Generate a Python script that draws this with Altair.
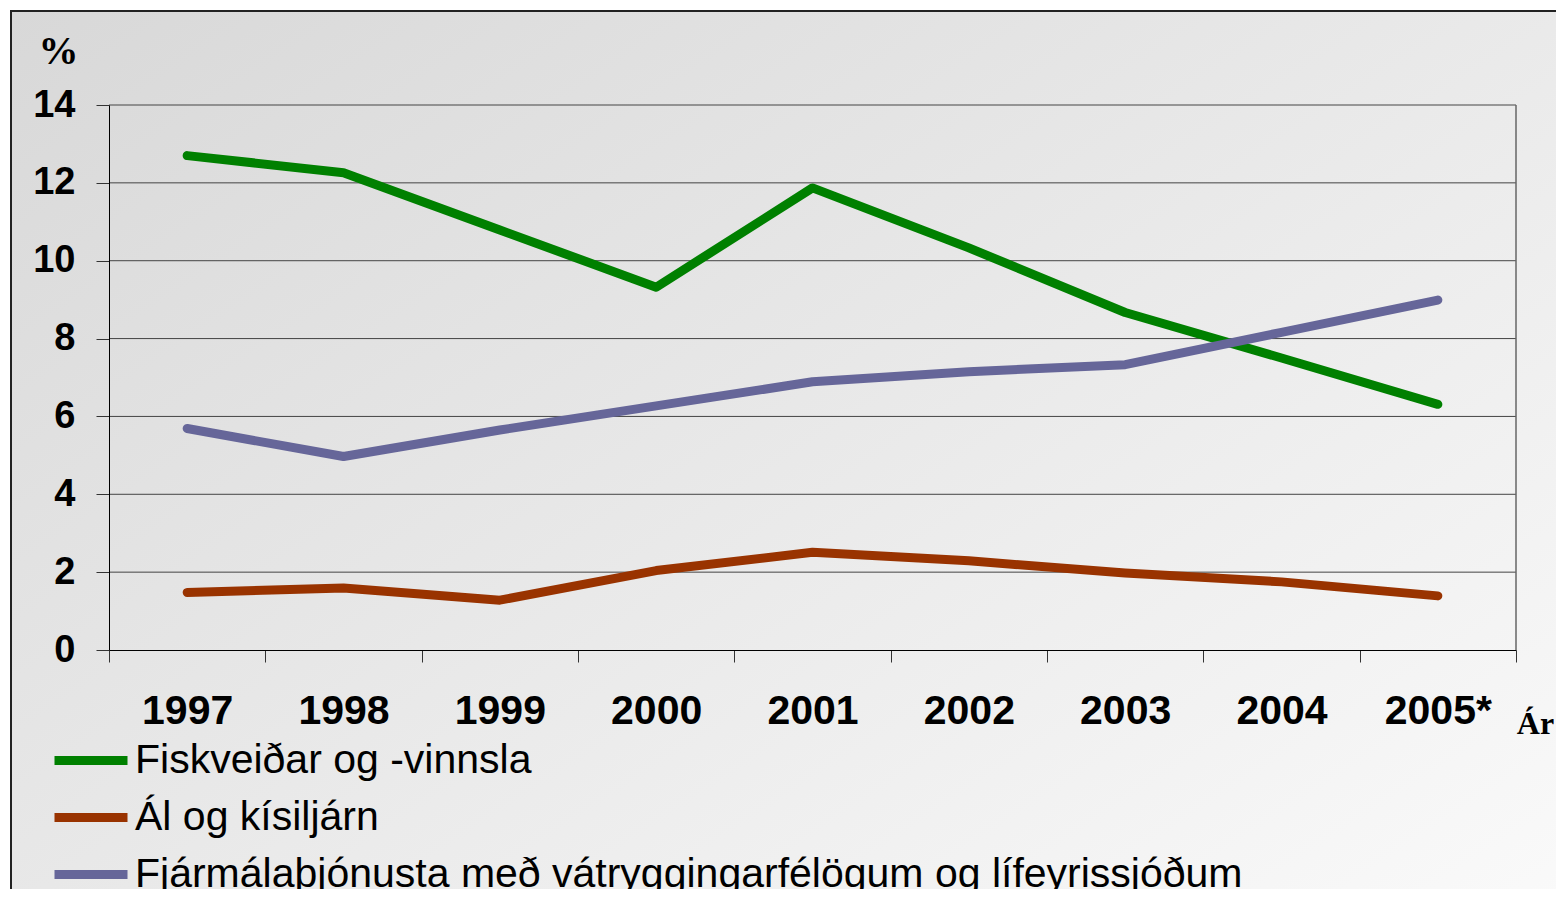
import altair as alt
import pandas as pd

years = ["1997", "1998", "1999", "2000", "2001", "2002", "2003", "2004", "2005*"]
series_names = [
    "Fiskveiðar og -vinnsla",
    "Ál og kísiljárn",
    "Fjármálaþjónusta með vátryggingarfélögum og lífeyrissjóðum",
]
fisk = [12.70, 12.26, 10.79, 9.32, 11.87, 10.33, 8.67, 7.50, 6.31]
al = [1.48, 1.59, 1.28, 2.04, 2.51, 2.29, 1.98, 1.75, 1.39]
fjarmal = [5.69, 4.97, 5.65, 6.27, 6.89, 7.15, 7.33, 8.16, 8.99]
colors = ["#008000", "#993300", "#666699"]
y_ticks = [0, 2, 4, 6, 8, 10, 12, 14]

rows = []
for name, vals in zip(series_names, [fisk, al, fjarmal]):
    for yr, v in zip(years, vals):
        rows.append({"Ár": yr, "Gildi": v, "Flokkur": name})
df = pd.DataFrame(rows)
grid_df = pd.DataFrame({"Gildi": y_ticks[1:]})

W, H = 1407, 545
PL, PT = 101, 97

bg = alt.Chart(pd.DataFrame({"a": [0]})).mark_rect(
    fill=alt.Gradient(
        gradient="linear",
        x1=0, y1=0, x2=1, y2=1,
        stops=[alt.GradientStop(color="#d8d8d8", offset=0),
               alt.GradientStop(color="#ffffff", offset=1)],
    ),
    stroke="#222222",
    strokeWidth=2,
).encode(
    x=alt.value(-98), x2=alt.value(1600),
    y=alt.value(-94), y2=alt.value(1000),
)

grid = alt.Chart(grid_df).mark_rule(color="#444444", strokeWidth=1).encode(
    y=alt.Y("Gildi:Q")
)

right_border = alt.Chart(pd.DataFrame({"a": [0]})).mark_rule(
    color="#666666", strokeWidth=1.5
).encode(x=alt.value(W), y=alt.value(0), y2=alt.value(H))

lines = alt.Chart(df).mark_line(strokeWidth=9, strokeCap="round", strokeJoin="round").encode(
    x=alt.X(
        "Ár:N",
        sort=years,
        scale=alt.Scale(type="band", paddingInner=0, paddingOuter=0),
        axis=alt.Axis(
            title="Ár",
            titleFont="Liberation Serif",
            titleFontSize=32,
            titleFontWeight="bold",
            titleColor="black",
            titleAngle=0,
            titleAlign="center",
            titleBaseline="alphabetic",
            titleX=1426,
            titleY=83,
            labelAngle=0,
            labelFont="Liberation Sans",
            labelFontSize=41,
            labelFontWeight="bold",
            labelColor="black",
            labelPadding=29,
            tickBand="extent",
            tickSize=12,
            tickColor="#333333",
            domainColor="black",
            grid=False,
            zindex=1,
        ),
    ),
    y=alt.Y(
        "Gildi:Q",
        scale=alt.Scale(domain=[0, 14], nice=False, zero=True),
        axis=alt.Axis(
            values=y_ticks,
            title="%",
            titleFont="Liberation Serif",
            titleFontSize=40,
            titleFontWeight="bold",
            titleColor="black",
            titleAngle=0,
            titleAlign="center",
            titleBaseline="alphabetic",
            titleX=-51,
            titleY=-42,
            labelFont="Liberation Sans",
            labelFontSize=38,
            labelFontWeight="bold",
            labelColor="black",
            labelPadding=21,
            tickSize=13,
            tickColor="#333333",
            domainColor="black",
            grid=False,
            zindex=1,
        ),
    ),
    color=alt.Color(
        "Flokkur:N",
        sort=series_names,
        scale=alt.Scale(domain=series_names, range=colors),
        legend=alt.Legend(
            title=None,
            orient="none",
            legendX=-59,
            legendY=627,
            symbolType="stroke",
            symbolSize=5329,
            symbolStrokeWidth=9,
            labelFont="Liberation Sans",
            labelFontSize=41,
            labelColor="black",
            labelOffset=3,
            rowPadding=0,
            clipHeight=57,
            padding=0,
            labelLimit=2000,
        ),
    ),
)

chart = alt.layer(bg, grid, right_border, lines).properties(
    width=W,
    height=H,
    autosize=alt.AutoSizeParams(type="none"),
    padding={"left": PL, "top": PT, "right": 1548 - PL - W, "bottom": 881 - PT - H},
).configure_view(
    stroke=None,
).configure(background="white")

chart.save("out.html", embed_options={"renderer": "svg", "actions": False})
